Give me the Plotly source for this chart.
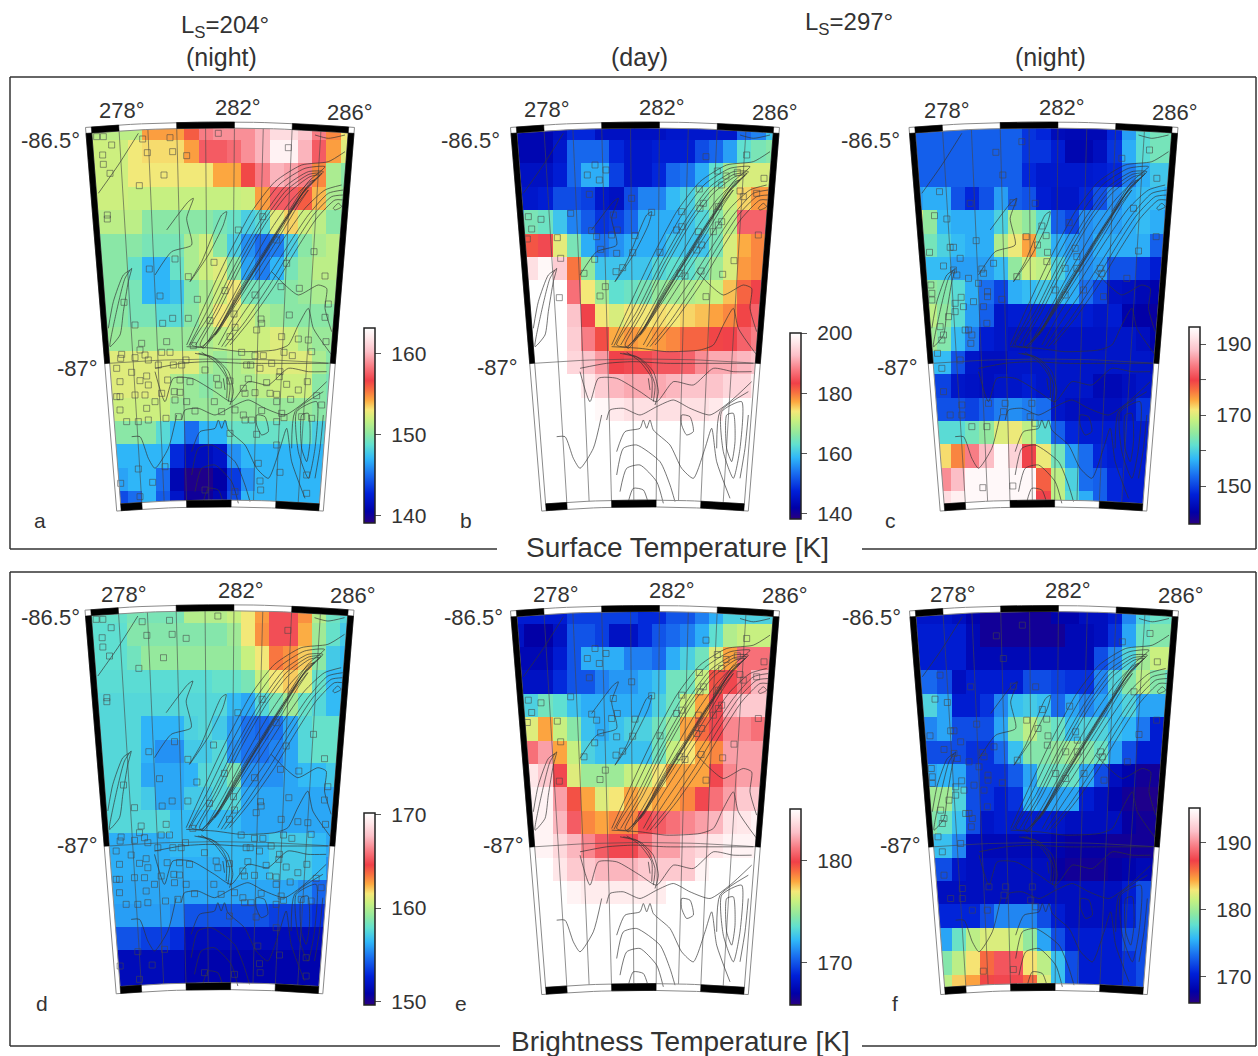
import math
import plotly.graph_objects as go

W, H = 1258, 1056

# ------------------------------------------------------------------ temperatures [K], rows N->S, 19 columns
SURF_204_NIGHT = [
 [151.5,151.5,151.5,151.5,154.5,154.5,154.5,156,158.5,159,159,159,160,161.5,161.5,160.5,158.5,155,153],
 [152,152,152,153,153.3,153.3,153.3,154.5,157.5,157.5,158,159,160,162.5,162.5,160,157.5,154.5,152.5],
 [152,152,152,153,153,153,153,153,153,154.3,154.3,156.5,158.5,160,159.5,158.5,155,151,150],
 [152,152,152,151.8,151.8,151.8,151.8,151.8,151.8,151.8,151.8,152,154.5,157.5,157.5,156,154,151,150.5],
 [151.5,151.5,151.5,151.5,150,150,150,150,150,149.5,149,148,148.5,152.5,153.5,152,151.5,150,150],
 [150.5,150,150,150,149.5,149.5,149.5,151,152,150,148,146,145,145.5,148,150,151,151.5,151.5],
 [150,150,150,149,147,147,149,151,152,152.5,150,146.5,145.5,147,149.5,150.5,151.5,151.5,151.5],
 [150,150,150,149.5,147,147,147.5,149.8,151,152,153,149.5,149.5,149.5,150,150.5,151,151,151],
 [150,150,150,149.5,149.5,148.5,148.5,150,151.5,153,152.5,152,151,150.5,150,150,150,150,150],
 [150.5,150.5,150.5,150.5,150.5,150.5,150.5,150.5,151,151.5,152,152,152,152.5,152,151,150.5,150.5,150],
 [152.5,152.5,152.5,152.5,152.5,152.5,152.5,152.5,151,150.5,151,151.5,152.5,152.5,152.5,152.5,151,150,150],
 [152.5,152.5,152.5,152.5,152.5,152.5,151,150.5,150,150.5,151,151,151.5,152,152,152,150,149.5,149.5],
 [152,152,152,152,152,152,150.5,150.5,150.5,150.5,150.5,150.5,150.5,150.5,150.5,150.5,150,149.5,149],
 [150,150,150,150,150,148.5,147,145,147,147,149,149,149,149,149,149,148,147.5,147.5],
 [147,147,147,147,147,147,143,141.5,141.5,142,146,147,147,147,147,147,147,147,147],
 [146.5,146.5,146.5,147,147,145,141,139.5,139.5,140.5,143.5,146,147,147,147,147,147,147,147],
 [144,144,144,145,147,144.5,142,140,140,141,144,147,147,147,147,147,147,147,147],
]
SURF_297_DAY = [
 [143,143,143,145,148,148,145,145,145,145,145,146,146,146,146,146,153,155,160],
 [143,143,143,146,153,153,153,148,146,146,147,147,147,151,153,157,163,165,166],
 [145,145,145,147,153,158,158,150,146,146,148,153,154,158,163,168,172,172,172],
 [146,146,147,151,151,150,146,145,151,155,155,159,161,165,168,171,175,178,178],
 [158,165,164,160,155,152,149,150,153,158,158,158,160,162,166,170,186,186,184],
 [178,182,184,173,165,158,154,156,158,158,158,160,160,160,165,172,177,179,175],
 [196,196,199,194,180,167,160,160,160,160,162,163,163,165,168,172,178,179,176],
 [200,200,200,200,187,174,168,163,164,165,167,168,169,170,171,176,181,183.5,182],
 [200,200,200,200,193,183.5,174,172,174,174,174.5,174,175,176,177.5,179,183,186,186],
 [200,200,200,200,194,188,182.5,177,178,177,178,179,181,181,183,183.5,186,188,188],
 [200,200,200,200,195,193,190,183.5,184,184,185,185,186,189,191,191,192,193,193],
 [200,200,200,200,200,197,194,192,191,191,191,192,193,193,193,195,195,198,198],
 [200,200,200,200,200,200,199,197,196,196,196,196,196,196,197,200,200,200,200],
 [200]*19, [200]*19, [200]*19, [200]*19,
]
SURF_297_NIGHT = [
 [152,152,152,152,152,152,152,152,149,148,144.5,144,144,144,148,156,161,163,163],
 [152,152,152,152,152,152,152,152,149,149,147,143.5,143.5,145,149,157,161,163,163],
 [152,152,152,152,152,152,152,152,148,146.5,146.5,146.5,146.5,147,148,154,157,159,159],
 [156,157,157,151,148,151,156,152,151,147,146,146,148,151,155,157,158,158,157],
 [170,165,158,157,157,157,160,167,165,161,152,150,155,156,156,157,158,157,155],
 [165,163,160,158,157,157,167,171,174.5,163,157,156,155,157,157,157,157,152,150],
 [158,158,158,156,156,156,158,165,169,168,160,157,155,156,151,151,149,147,146],
 [165,165,164,161,157,153,150,157,158,159,158,157,153,150,145.5,145,144,143,143],
 [168,168,165,161,156,152,146,147,147,147,147,147,147,146,147,143,142.5,142,143],
 [166,166,164,158,154,147,146,145.5,145.5,145.5,145.5,145.5,145.5,145.5,146,146,145,143,143],
 [158,158,158,151,146,145,145,146,146,146,146,146,146,146,146,146,146,145,145],
 [150,150,150,146,145.5,145,146,146,147,146,146,146,146,144,144,145,146,146,146],
 [151,151,151,151,150,152,154,155,154,153,146,145,145,145,145,146,149,149,149],
 [160,160,161,161,163,165,170,171,168,161,152,148,147,147,147,147,147,147,147],
 [172,172,172,176,184,188,194,190,180,171,163,156,153,148,147,147,147,147,147],
 [185,185,185,188,194,194,194,194,194,178,168,160,153,152,148,147,147,147,147],
 [191,191,191,193,194,194,194,194,194,180,168,161,157,152,148,147,147,147,147],
]
BRIGHT_204_NIGHT = [
 [158,158,158,158.5,158.5,158.5,158.5,160,160,160,160.5,161.5,162.8,165,165,163,160,158.2,157.5],
 [157.8,157.8,157.8,158.8,158.8,158.8,158.8,158.8,158.8,158.8,159.5,161.5,163,165,165,162.5,159.5,158,157],
 [157.8,157.8,157.8,158.3,159.2,159.2,159.2,159.2,159.2,159.2,159.2,160.5,161.5,163.5,163,162,159,157,156.5],
 [157.7,157.7,157.7,157.7,157.7,157.7,157.7,157.7,157.7,158,158,158.5,160.5,161.5,162,161,158,156.5,156.2],
 [157.5,157.5,157.5,157.5,157.5,157.5,157.5,157.5,157.5,157.5,156.5,156,157.5,158.5,159.5,158,157.5,156.5,156.5],
 [157.5,157.5,157.5,157.5,156.3,156.3,156.3,157.3,157.5,157,155.8,154.8,154.5,154.8,156,157.5,158,158,158],
 [157.5,157.5,157.5,157.5,156.3,155.5,155.5,157,157,157.5,155.5,154.8,154.8,155.2,156,157.5,158,158,158],
 [157.5,157.5,157.5,157.5,156,156,156,156.3,157.5,157.5,158.5,155.5,155.5,155.5,156,156.5,156.5,157,157],
 [157.5,157.5,157.5,157.5,157,156,156,157,157,157.5,157.5,156,156,156,156,156,156,156,156],
 [157.5,157.5,157.5,157.5,157.5,157.5,156.5,156.5,156.5,156.5,156.5,156,156,156,156,156,156,156,156],
 [156.2,156.2,156.2,156.2,156.2,156.2,156.5,156.5,156.5,156.5,156.5,156.5,156.5,157,157,157,156.5,156,156],
 [156.2,156.2,156.2,156.2,156.2,156.2,156.2,156.2,156.2,156.2,156.5,156.5,156.5,157,157,157,156.5,155.5,155.5],
 [156,156,156,156,156,156,156,156,156,156,156,156,156,156,156,155.5,154.5,153.5,153.5],
 [155.8,155.8,155.8,155.8,155.8,155.8,155.3,154,154,154,154,154,154,153.5,153.5,153.5,153,153,153],
 [154,154,154,154,153.5,153.5,153,151.5,151.5,151.5,151.5,151.5,151.5,151.5,151.5,151.5,151.5,151.5,151.5],
 [151.5,151.5,151.5,151.5,151.5,151.5,151.5,151,151,151,151,151,151,151,151,151,151,151,151],
 [151.5,151.5,151.5,151.5,151.5,151.5,151.5,151,151,151,151,151,151,151,151,151,151,151,151],
]
BRIGHT_297_DAY = [
 [168.5,168.5,168.5,168.5,169.5,169.5,169.5,169.5,169.5,169,169,170,170,171,172,173,173,173,173],
 [168,167,167,168,170,170,169.5,168,168,169,170,170.5,171,172,173.5,175.5,176,176,176],
 [167.5,167.5,167.5,168.5,170,172,172,172,171,171,170.5,172,173,174,176.5,178,181,181,181],
 [168,168,168,169,170,170,171,171.5,171.5,172,172.5,174,174,176,179.5,180,181,182.5,182.5],
 [172.5,173,174,173.5,172.5,172,172,172,172,172,173,174,176,178,180,182.5,183,183,183],
 [176,176.5,178,176,174.5,172.5,172,172.5,173,173,174,175,178,179,180,181.5,181.5,181,181],
 [180.5,181,182,178,176,173,172.5,172.5,172.5,172.5,174,176,177,178,178.5,182,182,182,182],
 [184,184,183,180,176.5,175,175,175,176,176,177,178,178,178,180,181.5,182,182,182],
 [184.5,184.5,184.5,182,179.5,178,176.5,177,178,177.5,178,178,178.5,180,181,182,183,183,183],
 [184.5,184.5,184.5,182.5,180.5,178.5,178,178.5,178.5,180,180.5,181,181.5,182,182.5,183.8,184,184.5,184.5],
 [184.5,184.5,184.5,183.5,182.5,181.5,180.5,180,180,181,182,182,183,183.5,184,184.5,184.5,184.5,184.5],
 [185,185,185,184,183,183,182.5,182.5,182.5,183,183,183,183,184.5,185,185,185,185,185],
 [185,185,185,185,184.5,184.2,184.2,184.2,184.2,184.2,184.2,185,185,185,185,185,185,185,185],
 [185]*19, [185]*19, [185]*19, [185]*19,
]
BRIGHT_297_NIGHT = [
 [169.5,169.5,169.5,169,168,167,167,167,167,167,168,168,169,169,170,174,177,178,178],
 [170,170,170,170,168.5,167,167,167,167,167,167,168.5,168.5,169,171,175,178,179,179],
 [170,170,170,170,168.5,168.5,168.5,168.5,168.5,168.5,168.5,168.5,168.5,172,174,177,180,181.5,181.5],
 [173,173,172,169,170,170,170,170,172,172,171.5,171,171,174,177,179,181,179,178],
 [177,177,175,170,170,171,174,176,176.5,176,173,175,174,175,176,177,175,175,175],
 [174,174,175,172,172,172,175,179,181,179,178,176,177,177,176,175.5,173.5,170,170],
 [172,172,172,172,171,171,173,176,179,179,179.5,180,179,178,175,172,170,170,170],
 [175,175,175.5,175,172,171,171,172.5,175,178,178,178,175,172,169,168,167,167,167],
 [180,180,180,177,172,171,170,171,175.5,175,175,175,170,169,168,167,166.5,166.5,166.5],
 [179,179,178,176,172,169.5,170,170,170,170,169.5,169,169,169,169,167.5,167,167,167],
 [176,176,176,174,169,168.5,168.5,168.5,168.5,168.5,168,167.5,167.5,167.5,167,167,167,167,167],
 [172,172,172,169.5,169,169,169,169,169,169,167.5,167,167,167,167.5,168,168.5,168,168],
 [169,169,169,169,169,169,169,169,169,169,169,169,169,169,169,170,172,172,172],
 [170.5,170.5,170.5,170.5,170.5,172,174,174,174,172,170,169,169,169,169,170.5,172,172,172],
 [175,175,175,178,181,182,182,181.5,179.5,175,172,170,170,170,170,172,172,172,172],
 [179,179,179,181,183,186,188,188,183,181,176,172,170,170,170,171,172,172,172],
 [181,181,181,183.5,184.5,187,187.5,187.5,186,182,176,172,170,170,170,171,172,172,172],
]

# colour bars: limits of the scale and tick values
CBAR_TICKS = [[140,150,160],[140,160,180,200],[150,170,190],[150,160,170],[170,180],[170,180,190]]
CBAR_MINOR = [[],[],[160,180],[],[],[]]
ZMIN = [139.1,138.3,139.3,149.6,165.9,166.0]
ZMAX = [163.2,200.0,194.8,170.2,185.0,195.1]

SITES_204 = [(50,65),(70,65),(95,90),(68,120),(70,148),(90,175),(188,72),(202,113),(270,68),(278,110),(320,122),(252,180),(178,212),(415,55),(625,98),(82,300),(82,312),
(548,305),(475,345),(590,375),(702,410),(285,432),(208,462),(402,442),(620,445),(735,483),(325,485),(435,527),(240,543),(352,553),(525,540),(603,515),(658,520),(132,562),(745,567),(462,597),(278,610),(325,610),(628,600),(543,612),(545,625),(735,607),(165,630),(248,625),(465,637),(390,617),(450,665),(530,645),(655,672),(685,675),(605,665),(738,680),(260,680),(185,685),(340,692),
(125,718),(122,730),(165,728),(180,705),(195,720),(205,735),(245,712),(270,712),(318,735),(235,750),(280,750),(305,750),(155,772),(110,760),(200,783),(180,797),(120,800),(205,810),(263,795),(300,795),(330,800),(375,765),(410,790),(415,810),(450,798),(505,792),(485,712),(525,722),(550,722),(612,712),(637,722),(695,710),(500,750),(512,750),(540,760),(575,745),(600,770),(598,785),(560,803),(620,808),(682,800),(655,825),(570,835),(590,838),(490,820),(495,835),(525,833),(120,845),(110,845),(165,840),(195,840),(245,835),(283,830),(300,832),(285,855),(320,860),(225,860),(200,880),(120,885),(403,860),(345,888),(425,890),(465,885),(590,860),(632,853),(545,887),(605,895),(490,900),(590,920),(612,908),(665,905),(695,910),(725,870),(710,842),(140,920),(175,920),(205,915),(258,910),(295,905),(495,915),(515,915),(450,955),(590,990),(530,958),(535,1045),(600,1072),(680,1080),(175,1062),(255,1055),(218,1102),(540,1098),(542,1125),(680,1135),(122,1105),(180,1145),(375,1125),(465,1130)]
SITES_297_DAY = [(85,305),(123,313),(95,342),(82,372),(172,368),(212,295),(182,430),(285,150),(262,180),(298,195),(318,165),(268,238),(395,250),(455,292),(340,300),(275,347),(290,365),(335,360),(352,345),(405,362),(302,403),(350,415),(398,413),(284,433),(368,458),(348,470),(252,475),(178,548),(300,543),(316,515),(618,125),(740,120),(652,168),(678,183),(712,172),(792,190),(665,210),(598,222),(610,265),(600,280),(655,275),(720,228),(730,245),(770,235),(775,360),(545,290),(595,350),(530,345),(545,335),(640,350),(655,330),(665,320),(605,390),(590,405),(480,412),(540,475),(555,483),(603,468),(668,478),(702,437),(618,545)]
SITES_297_NIGHT = [(118,230),(103,302),(140,312),(287,112),(365,80),(308,180),(210,265),(338,263),(405,265),(425,333),(507,323),(768,365),(770,190),(665,130),(748,105),(700,280),(228,377),(378,365),(438,362),(412,390),(150,397),(160,397),(88,412),(180,430),(130,453),(160,465),(170,480),(245,462),(250,475),(280,445),(205,490),(235,505),(350,485),(442,412),(440,440),(525,400),(530,425),(495,460),(530,460),(600,460),(605,475),(715,408),(680,490),(92,510),(95,535),(95,555),(183,547),(165,565),(190,575),(220,560),(262,530),(262,545),(305,553),(250,575),(165,590),(145,605),(120,635),(130,660),(125,675),(205,645),(215,660),(212,685),(260,625),(195,645),(112,715),(125,760),(180,735),(130,830),(185,870),(185,900),(150,900),(265,865),(315,865),(310,890),(395,865),(390,905),(215,935),(260,935),(405,925),(465,525),(495,540),(550,525),(610,545),(248,1118),(338,1113)]

# topographic contours
CONTOURS = [
 [(70,235),(130,150),(190,55)],
 [(105,695),(120,610),(150,490),(170,460),(160,500),(145,590),(135,660),(105,695)],
 [(100,640),(115,560),(145,480),(165,465)],
 [(345,500),(380,440),(440,300),(455,290),(445,330),(400,420),(345,500)],
 [(275,345),(340,260),(355,250),(335,310),(350,390),(290,410),(240,480)],
 [(335,690),(380,590),(450,440),(530,290),(600,200),(680,150),(760,140),(810,110)],
 [(342,692),(395,590),(465,445),(545,300),(615,207),(690,160),(750,155),(700,200),(640,290)],
 [(350,690),(410,590),(480,450),(560,310),(630,215),(700,170),(745,170),(700,210),(630,310),(560,420),(490,530),(430,640),(380,695),(350,690)],
 [(362,690),(420,590),(490,450),(568,315),(635,225),(702,178),(740,175),(695,218),(628,318),(558,430),(488,540),(428,645),(382,698)],
 [(375,690),(430,590),(500,450),(575,320),(640,235),(705,185),(735,180),(690,225),(625,325),(555,440),(485,550),(425,650),(385,700),(375,690)],
 [(400,680),(450,590),(520,460),(590,340),(650,255),(705,200),(720,195),(680,240),(620,340),(550,450),(480,565),(430,650),(400,680)],
 [(420,660),(470,580),(535,470),(600,360),(660,275),(700,225),(670,270),(610,370),(540,480),(475,580),(420,660)],
 [(430,690),(480,600),(550,490),(620,380),(690,280),(750,225),(800,210)],
 [(440,695),(495,610),(570,500),(640,390),(700,300),(760,235),(805,225)],
 [(450,695),(510,620),(590,500),(650,400),(715,300),(770,245),(805,240)],
 [(465,690),(530,610),(600,510),(660,410),(725,310),(780,255),(805,255)],
 [(335,695),(420,700),(500,710),(600,705),(640,690),(670,630),(700,580),(715,640),(770,720)],
 [(590,470),(630,510),(670,540),(730,510),(755,520),(750,580),(770,650)],
 [(360,715),(420,730),(460,770),(475,830),(465,870)],
 [(370,715),(410,725),(445,760),(465,810),(460,860)],
 [(380,712),(420,740),(455,790),(455,850)],
 [(445,790),(450,825)],
 [(240,760),(320,745),(400,740),(500,745),(620,745),(760,745)],
 [(240,770),(270,860),(295,790),(350,790),(420,830),(470,860),(520,800),(580,810),(640,760),(700,770),(755,770)],
 [(320,915),(330,885),(370,880),(420,900),(470,875),(520,855),(570,880),(630,900),(690,860),(755,800)],
 [(545,900),(570,905),(580,950),(560,960),(545,930),(545,900)],
 [(680,900),(700,895),(705,980),(695,1040),(680,1000),(680,900)],
 [(665,890),(725,860),(720,1000),(700,1090),(670,1010),(665,890)],
 [(650,1000),(660,890),(745,830)],
 [(745,900),(735,1000),(720,1090)],
 [(350,1010),(375,950),(420,940),(430,915),(440,940),(450,915),(460,945),(510,990),(545,1060),(580,1090),(615,1000),(635,940),(650,1040),(690,1150)],
 [(350,1080),(370,1000),(410,990),(480,1040),(510,1110),(525,1160)],
 [(360,1130),(380,1060),(420,1050),(470,1100),(490,1165)],
 [(385,1160),(400,1120),(430,1125),(445,1165)],
 [(170,965),(195,965),(220,1030),(240,1060),(280,1000),(305,900)],
 [(720,60),(760,70),(810,60)],
 [(775,280),(790,265),(800,275),(780,285),(775,280)],
]

PANEL_DATA = [SURF_204_NIGHT, SURF_297_DAY, SURF_297_NIGHT, BRIGHT_204_NIGHT, BRIGHT_297_DAY, BRIGHT_297_NIGHT]
PANEL_SITES = [SITES_204, SITES_297_DAY, SITES_297_NIGHT, SITES_204, SITES_297_DAY, SITES_297_NIGHT]
SITE_ORIGIN = [420, 435, 430]

# ------------------------------------------------------------------ layout constants
CX = [220, 645, 1043.5, 219.5, 645, 1044]
Y0 = [140, 140, 140, 622.7, 623.5, 623.5]       # page y of the first grid line
SCALE = 474.0
X_RANGE = (-0.32, 0.32)
Y_RANGE = (-3.60, -2.60)
Y_FIRST = -3.462
ROW_H = 0.04937
COL_W = 0.03
CBAR_X = [364, 790, 1189, 364, 790, 1189]
CBAR_TOP = [328, 333, 327, 813, 809, 808]
CBAR_LEN = [195, 186, 197, 192, 196, 195]

COLORSCALE = [
 [0.00,"#2a0080"],[0.06,"#0000a8"],[0.15,"#0020d8"],[0.25,"#1a70f0"],[0.33,"#30b8f8"],[0.40,"#60e0d0"],
 [0.46,"#90e8a0"],[0.53,"#c8f080"],[0.58,"#f5e878"],[0.63,"#fca840"],[0.68,"#f87040"],[0.73,"#f04048"],
 [0.80,"#f87880"],[0.88,"#fcc0c8"],[0.95,"#ffe8ea"],[1.00,"#ffffff"]]

LON0 = 281.5
def proj(lon, r):
    a = math.radians(lon - LON0)
    return r * math.sin(a), -r * math.cos(a)

def ring(lon1, lon2, r1, r2, n=24):
    """closed outline in map coordinates between two meridians and two parallels"""
    pts = [proj(lon1 + (lon2 - lon1) * i / n, r2) for i in range(n + 1)]
    pts += [proj(lon2 + (lon1 - lon2) * i / n, r1) for i in range(n + 1)]
    pts.append(pts[0])
    return pts

def multi(polys):
    xs, ys = [], []
    for p in polys:
        xs += [q[0] for q in p] + [None]
        ys += [q[1] for q in p] + [None]
    return xs, ys

def view_to_map(pts, origin):
    return [((px - origin) / 3 / SCALE, -(1781 - (115 + py / 3)) / SCALE) for px, py in pts]

R_TOP_OUT, R_TOP_IN, R_BOT_IN, R_BOT_OUT, R_87 = 3.5, 3.4875, 2.7025, 2.688, 3.0
L_IN = (277.05, 285.95)
L_OUT = (276.85, 286.15)
BLACK_LONS = [(277.05, 278), (280, 282), (284, 285.95)]

def px(x): return x / W
def py(y): return 1 - y / H

fig = go.Figure()
layout = dict(width=W, height=H, margin=dict(l=0, r=0, t=0, b=0), paper_bgcolor="white", plot_bgcolor="white",
              showlegend=False, autosize=False)
ann, shapes = [], []

for k in range(6):
    s = "" if k == 0 else str(k + 1)
    xa, ya = "x" + s, "y" + s
    z = PANEL_DATA[k]
    assert len(z) == 17 and all(len(r) == 19 for r in z), k
    left = CX[k] + X_RANGE[0] * SCALE
    right = CX[k] + X_RANGE[1] * SCALE
    top = Y0[k] + (Y_RANGE[0] - Y_FIRST) * SCALE
    bot = Y0[k] + (Y_RANGE[1] - Y_FIRST) * SCALE
    layout["xaxis" + s] = dict(domain=[px(left), px(right)], range=list(X_RANGE), visible=False, anchor=ya, fixedrange=True)
    layout["yaxis" + s] = dict(domain=[py(bot), py(top)], range=[Y_RANGE[1], Y_RANGE[0]], visible=False, anchor=xa, fixedrange=True)

    xedges = [-0.285 + COL_W * i for i in range(20)]
    yedges = [Y_FIRST + ROW_H * (j - 1) for j in range(18)]
    fig.add_trace(go.Heatmap(
        z=z, x=xedges, y=yedges, xaxis=xa, yaxis=ya, zmin=ZMIN[k], zmax=ZMAX[k], colorscale=COLORSCALE,
        hoverinfo="skip",
        colorbar=dict(x=px(CBAR_X[k]), xanchor="left", xpad=0, y=py(CBAR_TOP[k]), yanchor="top", ypad=0,
                      lenmode="pixels", len=CBAR_LEN[k], thicknessmode="pixels", thickness=11,
                      outlinecolor="#222222", outlinewidth=1.5, tickmode="array", tickvals=CBAR_TICKS[k],
                      ticktext=["\u00a0" + str(v) for v in CBAR_TICKS[k]],
                      ticks="outside", ticklen=6, tickcolor="#555555", tickwidth=1,
                      tickfont=dict(family="Liberation Sans", size=21, color="#333333"))))
    # unlabelled colour bar ticks
    for v in CBAR_MINOR[k]:
        yy = CBAR_TOP[k] + (ZMAX[k] - v) / (ZMAX[k] - ZMIN[k]) * CBAR_LEN[k]
        shapes.append(dict(type="line", xref="paper", yref="paper", x0=px(CBAR_X[k] + 11), x1=px(CBAR_X[k] + 17),
                           y0=py(yy), y1=py(yy), line=dict(color="#555555", width=1)))

    # white mask outside the map frame (keyhole path)
    inner = ring(L_IN[0], L_IN[1], R_BOT_IN, R_TOP_IN)
    xm0, xm1, ym0, ym1 = -0.30, 0.30, -3.54, -2.64
    rect = [(xm0, ym0), (xm1, ym0), (xm1, ym1), (xm0, ym1), (xm0, ym0)]
    mask = rect + inner[::-1] + [rect[0]]
    fig.add_trace(go.Scatter(x=[q[0] for q in mask], y=[q[1] for q in mask], xaxis=xa, yaxis=ya, mode="none",
                             fill="toself", fillcolor="white", hoverinfo="skip"))

    # meridians and the -87 parallel
    mer = [[proj(lon, r) for r in (R_TOP_IN, R_BOT_IN)] for lon in range(278, 286)]
    mer.append([proj(L_IN[0] + (L_IN[1] - L_IN[0]) * i / 24, R_87) for i in range(25)])
    mx, my = multi(mer)
    fig.add_trace(go.Scatter(x=mx, y=my, xaxis=xa, yaxis=ya, mode="lines", line=dict(color="rgba(70,70,70,0.75)", width=0.8), hoverinfo="skip"))

    # contours
    cx_, cy_ = multi([view_to_map(c, 435) for c in CONTOURS])
    fig.add_trace(go.Scatter(x=cx_, y=cy_, xaxis=xa, yaxis=ya, mode="lines", line=dict(color="rgba(50,50,50,0.75)", width=0.9, shape="spline", smoothing=0.6), hoverinfo="skip", connectgaps=False))

    # sites
    st = view_to_map(PANEL_SITES[k], SITE_ORIGIN[k % 3])
    fig.add_trace(go.Scatter(x=[q[0] for q in st], y=[q[1] for q in st], xaxis=xa, yaxis=ya, mode="markers",
                             marker=dict(symbol="square-open", size=6, color="rgba(70,70,70,0.7)", line=dict(width=0.8)), hoverinfo="skip"))

    # frame outlines
    ox, oy = multi([ring(L_OUT[0], L_OUT[1], R_BOT_OUT, R_TOP_OUT), inner])
    fig.add_trace(go.Scatter(x=ox, y=oy, xaxis=xa, yaxis=ya, mode="lines", line=dict(color="#8a8a8a", width=1), hoverinfo="skip"))

    # black frame sections
    blocks = []
    for a, b in BLACK_LONS:
        blocks.append(ring(a, b, R_TOP_IN, R_TOP_OUT, 8))
        blocks.append(ring(a, b, R_BOT_OUT, R_BOT_IN, 8))
    blocks.append(ring(L_OUT[0], L_IN[0], R_87, R_TOP_IN, 2))
    blocks.append(ring(L_IN[1], L_OUT[1], R_87, R_TOP_IN, 2))
    bx, by = multi(blocks)
    fig.add_trace(go.Scatter(x=bx, y=by, xaxis=xa, yaxis=ya, mode="lines", fill="toself", fillcolor="black",
                             line=dict(color="black", width=0.5), hoverinfo="skip"))

def label(text, x, y, size=22, color="#333333"):
    ann.append(dict(text=text, x=px(x), y=py(y), xref="paper", yref="paper", showarrow=False, xanchor="center", yanchor="middle",
                    font=dict(family="Liberation Sans", size=size, color=color)))

for t, x, y, sz in [("L<sub>S</sub>=204°", 225, 26, 24), ("(night)", 221, 57, 25), ("L<sub>S</sub>=297°", 849, 24, 24), ("(day)", 639, 57, 25), ("(night)", 1050, 57, 25)]:
    label(t, x, y, sz)

LON_TEXT = ["278°", "282°", "286°"]
LON_POS = [[(122,111),(238,107),(350,112)], [(547,110),(662,107),(775,112)], [(947,111),(1062,107),(1175,112)],
           [(124,594),(241,590),(353,595)], [(556,594),(672,590),(785,595)], [(953,594),(1068,590),(1181,595)]]
LAT_POS = [[(50,140),(77,368)], [(470,140),(497,367)], [(870,140),(897,367)],
           [(50,617),(77,845)], [(473,617),(503,845)], [(871,617),(900,845)]]
LETTERS = [("a",40,520),("b",466,520),("c",890,520),("d",42,1003),("e",461,1003),("f",895,1003)]
for k in range(6):
    for t, (x, y) in zip(LON_TEXT, LON_POS[k]):
        label(t, x, y)
    for t, (x, y) in zip(["-86.5°", "-87°"], LAT_POS[k]):
        label(t, x, y)
    label(LETTERS[k][0], LETTERS[k][1], LETTERS[k][2], 21)

label("Surface Temperature [K]", 677, 547, 28)
label("Brightness Temperature [K]", 680, 1041, 28)

for pts in [[(497,549),(10,549),(10,77),(1256,77),(1256,549),(862,549)],
            [(500,1046),(10,1046),(10,572),(1256,572),(1256,1046),(862,1046)]]:
    for (x0, y0), (x1, y1) in zip(pts[:-1], pts[1:]):
        shapes.append(dict(type="line", xref="paper", yref="paper", x0=px(x0), y0=py(y0), x1=px(x1), y1=py(y1),
                           line=dict(color="#333333", width=1.5)))

layout["annotations"] = ann
layout["shapes"] = shapes
fig.update_layout(**layout)
fig.write_html("out.html", config=dict(displayModeBar=False),
               post_script="document.body.style.margin='0';document.documentElement.style.overflow='hidden';")
